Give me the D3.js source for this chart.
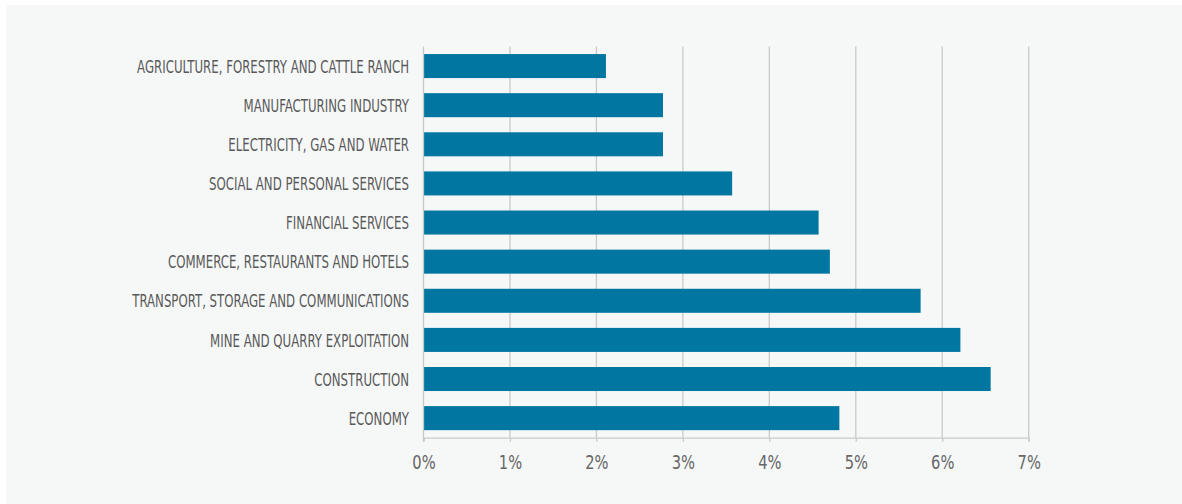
<!DOCTYPE html>
<html>
<head>
<meta charset="utf-8">
<script src="https://cdn.jsdelivr.net/npm/d3@7/dist/d3.min.js"></script>
<style>
  html, body { margin: 0; padding: 0; background: #ffffff; }
  svg { display: block; }
  .lbl { font-family: "Liberation Sans Narrow", "DejaVu Sans Condensed", "Roboto", sans-serif; }
</style>
</head>
<body>
<svg id="chart" width="1182" height="504"></svg>
<script>
// Sectors, top to bottom
const sectors = [
  "AGRICULTURE, FORESTRY AND CATTLE RANCH",
  "MANUFACTURING INDUSTRY",
  "ELECTRICITY, GAS AND WATER",
  "SOCIAL AND PERSONAL SERVICES",
  "FINANCIAL SERVICES",
  "COMMERCE, RESTAURANTS AND HOTELS",
  "TRANSPORT, STORAGE AND COMMUNICATIONS",
  "MINE AND QUARRY EXPLOITATION",
  "CONSTRUCTION",
  "ECONOMY"
];
// Growth rate per sector (%)
const growth = [2.11, 2.77, 2.77, 3.57, 4.57, 4.70, 5.75, 6.21, 6.56, 4.81];
// Axis ticks (%)
const xTicks = [0, 1, 2, 3, 4, 5, 6, 7];

const svg = d3.select("#chart");
const W = 1182, H = 504;

// panel background
svg.append("rect")
  .attr("x", 6).attr("y", 5)
  .attr("width", W - 6).attr("height", H - 5)
  .attr("fill", "#f6f8f8");

const x = d3.scaleLinear().domain([0, 7]).range([423.5, 1028.7]);
const y = d3.scaleBand().domain(sectors).range([46.5, 437.7])
  .paddingInner(0.386).paddingOuter(0.193);

// vertical gridlines
svg.append("g").selectAll("line")
  .data(xTicks.slice(1))
  .join("line")
  .attr("x1", d => x(d)).attr("x2", d => x(d))
  .attr("y1", 46.5).attr("y2", 437.7)
  .attr("stroke", "#c9c9c9").attr("stroke-width", 1.3);

// bars
svg.append("g").selectAll("rect")
  .data(sectors)
  .join("rect")
  .attr("x", x(0))
  .attr("y", d => y(d))
  .attr("width", (d, i) => x(growth[i]) - x(0))
  .attr("height", y.bandwidth())
  .attr("fill", "#0076a0");

// left axis line at 0
svg.append("line")
  .attr("x1", x(0)).attr("x2", x(0))
  .attr("y1", 46.5).attr("y2", 441.7)
  .attr("stroke", "#c9c9c9").attr("stroke-width", 1.3);

// x axis
const xAxis = d3.axisBottom(x)
  .tickValues(xTicks)
  .tickFormat(d => d + "%")
  .tickSize(4)
  .tickPadding(14);
const gx = svg.append("g").attr("transform", "translate(0,437.7)").call(xAxis);
gx.select(".domain").attr("stroke", "#c9c9c9").attr("stroke-width", 1.3);
gx.selectAll(".tick line").attr("stroke", "#c9c9c9").attr("stroke-width", 1.3);

// category labels
const labels = svg.append("g").selectAll("text")
  .data(sectors)
  .join("text")
  .attr("class", "lbl")
  .attr("text-anchor", "end")
  .attr("dy", "0.36em")
  .attr("fill", "#595959")
  .style("font-size", "18.5px")
  .text(d => d);

// condensed look: squeeze horizontally so the longest label spans ~272px
const natural = labels.nodes()[0].getComputedTextLength();
const sx = natural > 0 ? 272 / natural : 1;
labels.attr("transform", d => `translate(409,${y(d) + y.bandwidth() / 2}) scale(${sx},1)`);

gx.selectAll(".tick text")
  .attr("class", "lbl")
  .attr("fill", "#666666")
  .style("font-size", "19px")
  .attr("transform", "scale(0.86,1)");
</script>
</body>
</html>
